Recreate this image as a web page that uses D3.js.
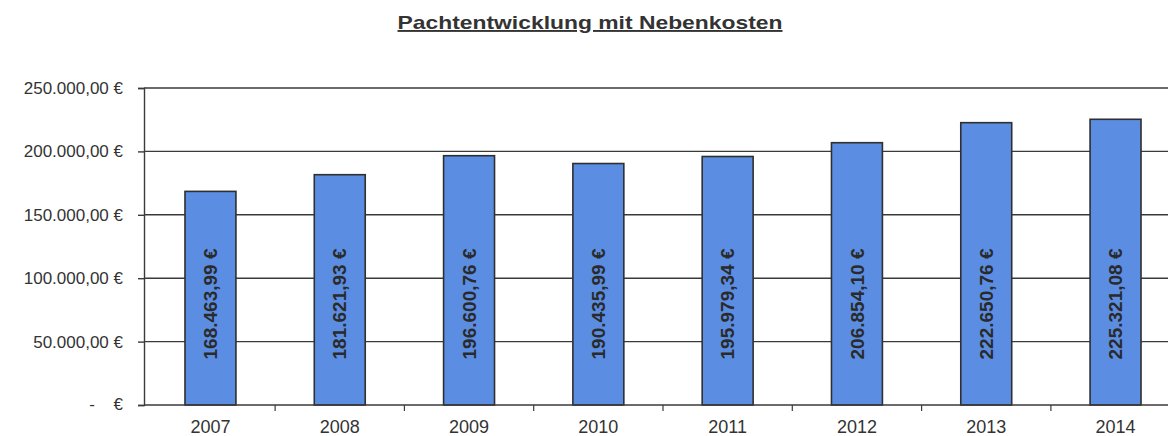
<!DOCTYPE html>
<html>
<head>
<meta charset="utf-8">
<script src="https://cdn.jsdelivr.net/npm/d3@7"></script>
<style>
  body { margin: 0; background: #fff; }
  svg { font-family: "Liberation Sans", Arial, sans-serif; }
</style>
</head>
<body>
<svg id="chart" width="1168" height="436"></svg>
<script>
const years = ["2007", "2008", "2009", "2010", "2011", "2012", "2013", "2014"];
const pacht = [168463.99, 181621.93, 196600.76, 190435.99, 195979.34, 206854.10, 222650.76, 225321.08];
const yTicks = [0, 50000, 100000, 150000, 200000, 250000];

const svg = d3.select("#chart");
const width = +svg.attr("width");
const plotLeft = 144, plotTop = 88, plotBottom = 405;

// plot area runs a little past the right edge of the picture
const x = d3.scaleBand().domain(years).range([plotLeft, 1182]).paddingInner(0.606).paddingOuter(0.317);
const y = d3.scaleLinear().domain([0, 250000]).range([plotBottom, plotTop]);

const de = d3.formatLocale({ decimal: ",", thousands: ".", grouping: [3], currency: ["", " €"] });
const fmt = de.format(",.2f");

// title
svg.append("text")
    .attr("x", 590)
    .attr("y", 29)
    .attr("text-anchor", "middle")
    .attr("textLength", 385)
    .attr("lengthAdjust", "spacingAndGlyphs")
    .style("font-weight", "bold")
    .style("font-size", "19px")
    .style("text-decoration", "underline")
    .attr("fill", "#333")
    .text("Pachtentwicklung mit Nebenkosten");

// gridlines
svg.append("g")
    .selectAll("line")
    .data(yTicks.filter(d => d > 0))
    .enter().append("line")
    .attr("x1", plotLeft)
    .attr("x2", width)
    .attr("y1", d => y(d))
    .attr("y2", d => y(d))
    .attr("stroke", "#3a3a3a")
    .attr("stroke-width", 1.4);

// y axis
const yAxis = svg.append("g")
    .attr("transform", `translate(${plotLeft},0)`)
    .call(d3.axisLeft(y).tickValues(yTicks).tickSize(6).tickFormat(d => d === 0 ? "" : fmt(d) + " €"));
yAxis.select(".domain").attr("stroke", "#3a3a3a").attr("stroke-width", 1.4);
yAxis.selectAll(".tick line").attr("stroke", "#3a3a3a").attr("stroke-width", 1.4);
yAxis.selectAll("text")
    .attr("x", -21)
    .style("font-size", "17px")
    .attr("fill", "#333");

// zero tick: accounting style "-  €"
const zeroTick = svg.append("g").attr("transform", `translate(0,${y(0)})`)
    .style("font-size", "17px").attr("fill", "#333");
zeroTick.append("text").attr("x", 92).attr("dy", "0.32em").attr("text-anchor", "middle").text("-");
zeroTick.append("text").attr("x", 123).attr("dy", "0.32em").attr("text-anchor", "end").text("€");

// bars
svg.append("g")
    .selectAll("rect")
    .data(years)
    .enter().append("rect")
    .attr("x", d => x(d))
    .attr("y", (d, i) => y(pacht[i]))
    .attr("width", x.bandwidth())
    .attr("height", (d, i) => y(0) - y(pacht[i]))
    .attr("fill", "#5b8ee3")
    .attr("stroke", "#2f2f2f")
    .attr("stroke-width", 1.6);

// value labels inside bars
svg.append("g")
    .selectAll("text")
    .data(years)
    .enter().append("text")
    .attr("transform", d => `translate(${x(d) + x.bandwidth() / 2},${y(0) - 101}) rotate(-90)`)
    .attr("text-anchor", "middle")
    .attr("dy", "0.35em")
    .style("font-size", "19px")
    .style("font-weight", "bold")
    .attr("fill", "#2a2a2a")
    .text((d, i) => fmt(pacht[i]) + " €");

// x axis
const gap = (x.step() - x.bandwidth()) / 2;
const xAxis = svg.append("g")
    .attr("transform", `translate(0,${y(0)})`);
xAxis.append("line")
    .attr("x1", plotLeft)
    .attr("x2", width)
    .attr("stroke", "#3a3a3a")
    .attr("stroke-width", 1.4);
xAxis.selectAll(".sep")
    .data(years.slice(1))
    .enter().append("line")
    .attr("class", "sep")
    .attr("x1", d => x(d) - gap)
    .attr("x2", d => x(d) - gap)
    .attr("y1", 0)
    .attr("y2", 6)
    .attr("stroke", "#3a3a3a")
    .attr("stroke-width", 1.2);
xAxis.selectAll(".lbl")
    .data(years)
    .enter().append("text")
    .attr("class", "lbl")
    .attr("x", d => x(d) + x.bandwidth() / 2)
    .attr("y", 28)
    .attr("text-anchor", "middle")
    .style("font-size", "18px")
    .attr("fill", "#333")
    .text(d => d);
</script>
</body>
</html>
